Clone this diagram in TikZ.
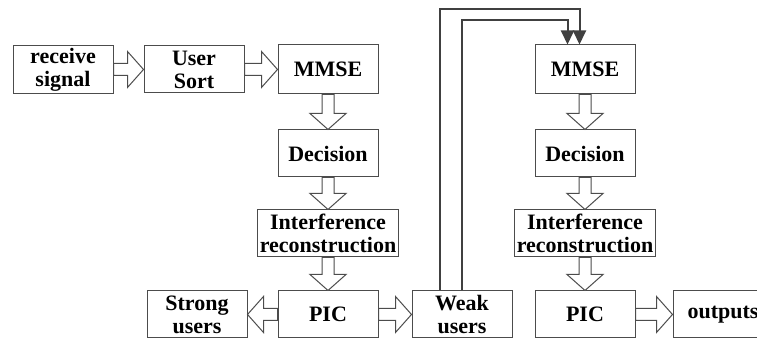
\documentclass[tikz,border=0pt]{standalone}
\usepackage{fontspec}
\setmainfont{Liberation Serif}
\usetikzlibrary{positioning,calc,arrows.meta}

\tikzset{
  block/.style={draw=black!70, line width=0.5pt, fill=white, minimum width=50pt, minimum height=23.5pt,
    inner sep=1pt, align=center, font=\fontsize{11pt}{11.5pt}\selectfont\bfseries},
  wide block/.style={block, minimum width=70.5pt},
  hollow/.style={draw=black!70, fill=white, line width=0.5pt,
    to path={let \p1=(\tikztostart), \p2=(\tikztotarget),
      \n1={atan2(\y2-\y1,\x2-\x1)}, \n2={veclen(\x2-\x1,\y2-\y1)} in
      {[shift={(\p1)}, rotate=\n1]
        (0pt,3pt) -- ({\n2-8pt},3pt) -- ({\n2-8pt},9pt) -- (\n2,0pt)
        -- ({\n2-8pt},-9pt) -- ({\n2-8pt},-3pt) -- (0pt,-3pt) -- cycle}}},
  feedback/.style={draw=black!75, line width=1pt, ->}
}

\begin{document}
\begin{tikzpicture}[>={Triangle[length=7pt,width=6.5pt]}]

    \useasboundingbox (0,0) rectangle (378.5pt,-170pt);

    % first stage
    \node[block] (recv) at (31.5pt,-34.75pt) {receive\\signal};
    \node[block] (sort) [right=15pt of recv] {User\\Sort};
    \node[block, minimum height=24.5pt] (mmse1) [right=16.5pt of sort] {MMSE};
    \node[block] (dec1) [below=17.5pt of mmse1] {Decision};
    \node[wide block] (rec1) [below=16pt of dec1] {Interference\\reconstruction};
    \node[block] (pic1) [below=16.5pt of rec1] {PIC};
    \node[block] (strong) [left=15pt of pic1] {Strong\\users};
    \node[block] (weak) [right=16.5pt of pic1] {Weak\\users};

    % second stage
    \node[block, minimum height=24.5pt] (mmse2) [right=78pt of mmse1] {MMSE};
    \node[block] (dec2) [below=17.5pt of mmse2] {Decision};
    \node[wide block] (rec2) [below=16pt of dec2] {Interference\\reconstruction};
    \node[block] (pic2) [below=16.5pt of rec2] {PIC};
    \node[block] (out) [right=18.5pt of pic2] {outputs};

    \path
        (recv.east) edge[hollow] (sort.west)
        (sort.east) edge[hollow] (mmse1.west)
        (mmse1.south) edge[hollow] (dec1.north)
        (dec1.south) edge[hollow] (rec1.north)
        (rec1.south) edge[hollow] (pic1.north)
        (pic1.west) edge[hollow] (strong.east)
        (pic1.east) edge[hollow] (weak.west)
        (mmse2.south) edge[hollow] (dec2.north)
        (dec2.south) edge[hollow] (rec2.north)
        (rec2.south) edge[hollow] (pic2.north)
        (pic2.east) edge[hollow] (out.west)
    ;

    % weak users fed back
    \draw[feedback] ([xshift=-11pt]weak.north) |- ([xshift=-2.75pt,yshift=17.5pt]mmse2.north) -- ([xshift=-2.75pt]mmse2.north);
    \draw[feedback] (weak.north) |- ([xshift=-8.75pt,yshift=12pt]mmse2.north) -- ([xshift=-8.75pt]mmse2.north);

\end{tikzpicture}
\end{document}
